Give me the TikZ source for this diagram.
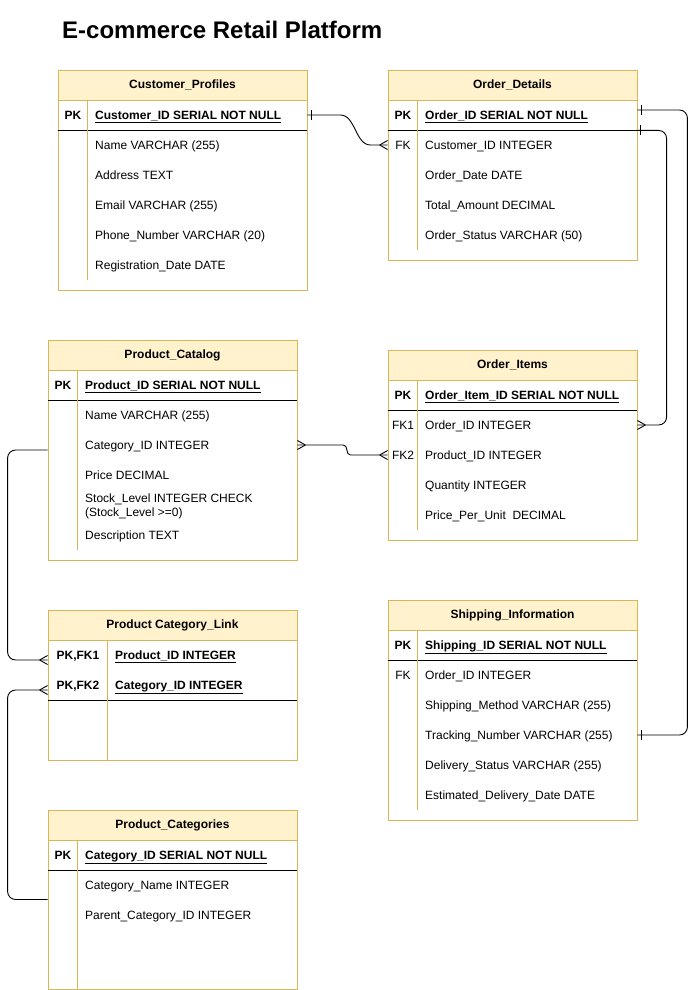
\documentclass[tikz,border=0pt]{standalone}
\usepackage{fontspec}
\setmainfont{Liberation Sans}
\usetikzlibrary{positioning,calc}
\definecolor{tblline}{HTML}{D6B656}
\definecolor{hdrfill}{HTML}{FFF2CC}
\tikzset{
  tbl/.style={rectangle, draw=tblline, line width=0.8pt, minimum width=249pt, inner sep=0pt},
  hdr/.style={rectangle, draw=tblline, line width=0.8pt, fill=hdrfill, minimum width=249pt, minimum height=30pt, font=\bfseries\fontsize{12}{14}\selectfont},
  key/.style={inner sep=0pt, text height=8.6pt, text depth=0pt, font=\bfseries\fontsize{12}{14}\selectfont},
  fkey/.style={inner sep=0pt, text height=8.6pt, text depth=0pt, font=\fontsize{12}{14}\selectfont},
  fld/.style={anchor=west, inner sep=0pt, text height=8.6pt, text depth=0pt, font=\fontsize{12}{14}\selectfont},
  fldtwo/.style={anchor=west, inner sep=0pt, align=left, font=\fontsize{12}{14}\selectfont},
  pkfld/.style={anchor=west, inner sep=0pt, text height=8.6pt, text depth=0pt, font=\bfseries\fontsize{12}{14}\selectfont},
  sepline/.style={draw=black, line width=0.9pt},
  divline/.style={draw=tblline, line width=0.8pt},
  rel/.style={draw=black, line width=0.9pt},
  tickR/.pic={\draw[rel] (4,-5) -- (4,5);},
  crowL/.pic={\draw[rel] (-8,0) -- (0,-4.5) (-8,0) -- (0,4.5);},
  crowR/.pic={\draw[rel] (8,0) -- (0,-4.5) (8,0) -- (0,4.5);}
}

\begin{document}
\begin{tikzpicture}[x=1pt, y=-1pt]
	\useasboundingbox (0,0) rectangle (697,990);
	\node[anchor=west, inner sep=0pt, font=\bfseries\fontsize{24}{28}\selectfont] (title) at (62,30) {E-commerce Retail Platform};

	% Customer_Profiles
	\node[tbl, minimum height=220pt] (cust) at (182.5,180) {};
	\node[hdr, anchor=north] (custH) at (cust.north) {Customer\_Profiles};
	\draw[sepline] (custH.south west) ++(0,30) -- ++(249,0);
	\draw[divline] (custH.south west) ++(30,0) -- ++(0,180);
	\node[key] (custK) at (73,115) {PK};
	\node[pkfld] (custPK) at (95,115) {\underline{Customer\_ID SERIAL NOT NULL}};
	\node[fld] (custF1) at (95,145) {Name VARCHAR (255)};
	\node[fld] (custF2) at (95,175) {Address TEXT};
	\node[fld] (custF3) at (95,205) {Email VARCHAR (255)};
	\node[fld] (custF4) at (95,235) {Phone\_Number VARCHAR (20)};
	\node[fld] (custF5) at (95,265) {Registration\_Date DATE};

	% Order_Details
	\node[tbl, minimum height=190pt] (od) at (512.5,165) {};
	\node[hdr, anchor=north] (odH) at (od.north) {Order\_Details};
	\draw[sepline] (odH.south west) ++(0,30) coordinate (odSepL) -- ++(249,0) coordinate (odSepR);
	\draw[divline] (odH.south west) ++(30,0) -- ++(0,150);
	\node[key] (odK) at (403,115) {PK};
	\node[pkfld] (odPK) at (425,115) {\underline{Order\_ID SERIAL NOT NULL}};
	\node[fkey] (odK1) at (403,145) {FK};
	\node[fld] (odF1) at (425,145) {Customer\_ID INTEGER};
	\node[fld] (odF2) at (425,175) {Order\_Date DATE};
	\node[fld] (odF3) at (425,205) {Total\_Amount DECIMAL};
	\node[fld] (odF4) at (425,235) {Order\_Status VARCHAR (50)};

	% Product_Catalog
	\node[tbl, minimum height=220pt] (pc) at (172.5,450) {};
	\node[hdr, anchor=north] (pcH) at (pc.north) {Product\_Catalog};
	\draw[sepline] (pcH.south west) ++(0,30) -- ++(249,0);
	\draw[divline] (pcH.south west) ++(30,0) -- ++(0,180);
	\node[key] (pcK) at (63,385) {PK};
	\node[pkfld] (pcPK) at (85,385) {\underline{Product\_ID SERIAL NOT NULL}};
	\node[fld] (pcF1) at (85,415) {Name VARCHAR (255)};
	\node[fld] (pcF2) at (85,445) {Category\_ID INTEGER};
	\node[fld] (pcF3) at (85,475) {Price DECIMAL};
	\node[fldtwo] (pcF4) at (85,506) {Stock\_Level INTEGER CHECK\\(Stock\_Level >=0)};
	\node[fld] (pcF5) at (85,535) {Description TEXT};

	% Order_Items
	\node[tbl, minimum height=190pt] (oi) at (512.5,445) {};
	\node[hdr, anchor=north] (oiH) at (oi.north) {Order\_Items};
	\draw[sepline] (oiH.south west) ++(0,30) -- ++(249,0);
	\draw[divline] (oiH.south west) ++(30,0) -- ++(0,150);
	\node[key] (oiK) at (403,395) {PK};
	\node[pkfld] (oiPK) at (425,395) {\underline{Order\_Item\_ID SERIAL NOT NULL}};
	\node[fkey] (oiK1) at (403,425) {FK1};
	\node[fld] (oiF1) at (425,425) {Order\_ID INTEGER};
	\node[fkey] (oiK2) at (403,455) {FK2};
	\node[fld] (oiF2) at (425,455) {Product\_ID INTEGER};
	\node[fld] (oiF3) at (425,485) {Quantity INTEGER};
	\node[fld] (oiF4) at (425,515) {Price\_Per\_Unit\ \ DECIMAL};

	% Product Category_Link
	\node[tbl, minimum height=150pt] (pcl) at (172.5,685) {};
	\node[hdr, anchor=north] (pclH) at (pcl.north) {Product Category\_Link};
	\draw[sepline] (pclH.south west) ++(0,60) -- ++(249,0);
	\draw[divline] (pclH.south west) ++(60,0) -- ++(0,120);
	\node[key] (pclK1) at (78,655) {PK,FK1};
	\node[pkfld] (pclF1) at (115,655) {\underline{Product\_ID INTEGER}};
	\node[key] (pclK2) at (78,685) {PK,FK2};
	\node[pkfld] (pclF2) at (115,685) {\underline{Category\_ID INTEGER}};
	\path (pcl.west |- pclK1) ++(0,5) coordinate (pclIn1);
	\path (pcl.west |- pclK2) ++(0,5) coordinate (pclIn2);

	% Shipping_Information
	\node[tbl, minimum height=220pt] (si) at (512.5,710) {};
	\node[hdr, anchor=north] (siH) at (si.north) {Shipping\_Information};
	\draw[sepline] (siH.south west) ++(0,30) -- ++(249,0);
	\draw[divline] (siH.south west) ++(30,0) -- ++(0,180);
	\node[key] (siK) at (403,645) {PK};
	\node[pkfld] (siPK) at (425,645) {\underline{Shipping\_ID SERIAL NOT NULL}};
	\node[fkey] (siK1) at (403,675) {FK};
	\node[fld] (siF1) at (425,675) {Order\_ID INTEGER};
	\node[fld] (siF2) at (425,705) {Shipping\_Method VARCHAR (255)};
	\node[fld] (siF3) at (425,735) {Tracking\_Number VARCHAR (255)};
	\node[fld] (siF4) at (425,765) {Delivery\_Status VARCHAR (255)};
	\node[fld] (siF5) at (425,795) {Estimated\_Delivery\_Date DATE};

	% Product_Categories
	\node[tbl, minimum height=179pt] (pcat) at (172.5,899.5) {};
	\node[hdr, anchor=north] (pcatH) at (pcat.north) {Product\_Categories};
	\draw[sepline] (pcatH.south west) ++(0,30) -- ++(249,0);
	\draw[divline] (pcatH.south west) ++(30,0) -- ++(0,149);
	\node[key] (pcatK) at (63,855) {PK};
	\node[pkfld] (pcatPK) at (85,855) {\underline{Category\_ID SERIAL NOT NULL}};
	\node[fld] (pcatF1) at (85,885) {Category\_Name INTEGER};
	\node[fld] (pcatF2) at (85,915) {Parent\_Category\_ID INTEGER};

	% relations
	\path (od.east |- odPK) ++(0,-5) coordinate (odOut);
	\draw[rel] (cust.east |- custPK) -- ++(33,0) .. controls +(15,0) and +(-15,0) .. ++(30,30) -- (od.west |- odF1);
	\path (cust.east |- custPK) pic{tickR};
	\path (od.west |- odF1) pic{crowL};

	\draw[rel, rounded corners=8] (odSepR) -- ++(30,0) |- (oi.east |- oiF1);
	\path (odSepR) pic{tickR};
	\path (oi.east |- oiF1) pic{crowR};

	\draw[rel, rounded corners=8] (odOut) -- ++(50,0) |- (si.east |- siF3);
	\path (odOut) pic{tickR};
	\path (si.east |- siF3) pic{tickR};

	\draw[rel] (pc.east |- pcF2) -- ++(46,0) .. controls +(5,0) and +(-5,0) .. ++(7,10) -- (oi.west |- oiF2);
	\path (pc.east |- pcF2) pic{crowR};
	\path (oi.west |- oiF2) pic{crowL};

	\draw[rel, rounded corners=8] (pc.west) -- ++(-40,0) |- (pclIn1);
	\path (pclIn1) pic{crowL};
	\draw[rel, rounded corners=8] (pcat.west) -- ++(-40,0) |- (pclIn2);
	\path (pclIn2) pic{crowL};
\end{tikzpicture}
\end{document}
